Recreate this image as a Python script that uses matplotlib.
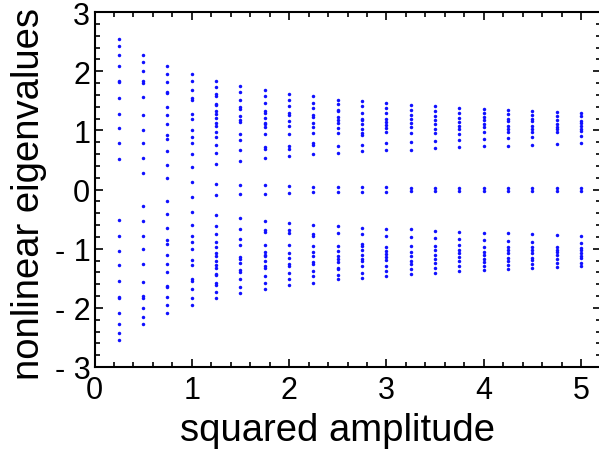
import matplotlib
matplotlib.use("Agg")
import matplotlib.pyplot as plt
import numpy as np

# squared amplitude values (columns)
amplitudes = [0.25, 0.5, 0.75, 1.0, 1.25, 1.5, 1.75, 2.0, 2.25, 2.5,
              2.75, 3.0, 3.25, 3.5, 3.75, 4.0, 4.25, 4.5, 4.75, 5.0]

# positive nonlinear eigenvalues per column (spectrum is symmetric: -lambda also present)
eig_pos = [
    [2.54, 2.43, 2.28, 2.09, 1.84, 1.82, 1.54, 1.28, 1.04, 0.78, 0.52],
    [2.27, 2.15, 2.01, 1.83, 1.80, 1.56, 1.26, 1.01, 0.78, 0.53, 0.28],
    [2.08, 1.96, 1.82, 1.65, 1.63, 1.39, 1.26, 1.10, 0.92, 0.86, 0.65, 0.41, 0.19],
    [1.95, 1.83, 1.69, 1.54, 1.51, 1.28, 1.19, 1.01, 0.89, 0.78, 0.60, 0.38, 0.13],
    [1.83, 1.73, 1.61, 1.58, 1.45, 1.42, 1.32, 1.28, 1.21, 1.13, 1.08, 0.97, 0.89, 0.75, 0.62, 0.43, 0.10],
    [1.75, 1.64, 1.52, 1.39, 1.36, 1.25, 1.17, 1.14, 0.93, 0.83, 0.67, 0.48, 0.076],
    [1.68, 1.58, 1.46, 1.33, 1.30, 1.21, 1.13, 1.10, 1.05, 0.93, 0.71, 0.69, 0.53, 0.07],
    [1.62, 1.52, 1.41, 1.29, 1.26, 1.16, 1.08, 0.94, 0.74, 0.69, 0.56, 0.055],
    [1.58, 1.47, 1.37, 1.26, 1.22, 1.13, 1.05, 0.95, 0.78, 0.75, 0.60, 0.05],
    [1.52, 1.44, 1.34, 1.32, 1.22, 1.18, 1.12, 1.04, 0.95, 0.74, 0.61, 0.04],
    [1.49, 1.41, 1.29, 1.20, 1.18, 1.10, 1.03, 0.96, 0.92, 0.76, 0.65, 0.04],
    [1.46, 1.37, 1.29, 1.19, 1.14, 1.09, 1.04, 0.97, 0.79, 0.66, 0.04],
    [1.43, 1.35, 1.26, 1.20, 1.13, 1.05, 0.96, 0.81, 0.67, 0.03],
    [1.41, 1.33, 1.25, 1.18, 1.11, 1.02, 0.95, 0.82, 0.70, 0.03],
    [1.38, 1.30, 1.21, 1.14, 1.07, 1.02, 0.93, 0.84, 0.71, 0.03],
    [1.36, 1.29, 1.22, 1.17, 1.10, 1.05, 0.97, 0.85, 0.73, 0.03],
    [1.34, 1.28, 1.20, 1.15, 1.08, 1.03, 0.97, 0.87, 0.74, 0.03],
    [1.33, 1.26, 1.19, 1.15, 1.08, 1.03, 0.97, 0.89, 0.75, 0.03],
    [1.31, 1.25, 1.18, 1.11, 1.06, 1.02, 0.97, 0.77, 0.03],
    [1.30, 1.24, 1.16, 1.12, 1.08, 1.03, 0.99, 0.91, 0.78, 0.03],
]

x_ticks = [0, 1, 2, 3, 4, 5]
x_tick_labels = ["0", "1", "2", "3", "4", "5"]
y_ticks = [-3, -2, -1, 0, 1, 2, 3]
y_tick_labels = ["- 3", "- 2", "- 1", "0", "1", "2", "3"]

plt.rcParams['font.family'] = ['Liberation Sans', 'DejaVu Sans']

fig = plt.figure(figsize=(5.99, 4.56), dpi=100)
ax = fig.add_axes([94.5 / 599, 1 - 368 / 456, (600.5 - 94.5) / 599, (368 - 13) / 456])

xs, ys = [], []
for a, vals in zip(amplitudes, eig_pos):
    for v in vals:
        xs.extend([a, a])
        ys.extend([v, -v])
ax.plot(xs, ys, linestyle='none', marker='o', markersize=2.5,
        color='#1010ff', markeredgewidth=0)

ax.set_xlim(0, 5.2)
ax.set_ylim(-3, 3)
ax.set_xticks(x_ticks)
ax.set_xticklabels(x_tick_labels)
ax.set_yticks(y_ticks)
ax.set_yticklabels(y_tick_labels)
ax.set_xticks(np.arange(0, 5.21, 0.2), minor=True)
ax.set_yticks(np.arange(-3, 3.01, 0.2), minor=True)

ax.tick_params(which='both', direction='in', top=True, right=True, width=1.2)
ax.tick_params(which='major', length=6, labelsize=22)
ax.tick_params(which='minor', length=3.5)
ax.tick_params(axis='x', which='major', pad=6)
ax.tick_params(axis='y', which='major', pad=3)
for s in ax.spines.values():
    s.set_linewidth(1.5)

ax.set_xlabel("squared amplitude", fontsize=27.5)
ax.set_ylabel("nonlinear eigenvalues", fontsize=27.5)
ax.xaxis.set_label_coords((338 - 94.5) / 506, -0.128)
ax.yaxis.set_label_coords(-0.094, 0.49)

fig.savefig("out.png", dpi=100)
